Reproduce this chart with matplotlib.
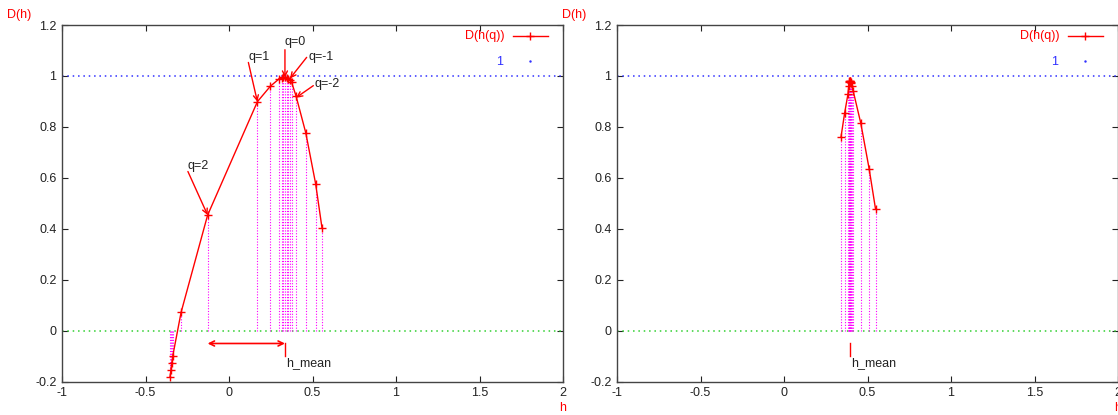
import matplotlib
matplotlib.use('Agg')
import matplotlib.pyplot as plt
import numpy as np

plt.rcParams['font.family'] = ['Liberation Sans', 'DejaVu Sans']

# left panel: D(h(q)) spectrum
h_left = [-0.353, -0.348, -0.343, -0.337, -0.287, -0.128, 0.170, 0.248, 0.299, 0.315,
          0.325, 0.335, 0.345, 0.355, 0.363, 0.375, 0.402, 0.460, 0.519, 0.557]
D_left = [-0.180, -0.155, -0.128, -0.100, 0.072, 0.454, 0.899, 0.960, 0.988, 0.992,
          0.994, 0.995, 0.993, 0.990, 0.985, 0.975, 0.920, 0.776, 0.576, 0.403]
hmean_left = 0.335
h_q2 = -0.128

# right panel
h_right = [0.341, 0.363, 0.383, 0.387, 0.390, 0.392, 0.394, 0.396, 0.398, 0.400,
           0.403, 0.407, 0.414, 0.460, 0.510, 0.548]
D_right = [0.759, 0.854, 0.929, 0.962, 0.975, 0.979, 0.981, 0.981, 0.980, 0.978,
           0.972, 0.962, 0.942, 0.814, 0.635, 0.478]
hmean_right = 0.394

# q labels: text, text pos (h, D), arrow tail (h, D), arrow tip (h, D)
q_labels = [('q=2', -0.251, 0.646, -0.246, 0.625, -0.128, 0.454),
            ('q=1', 0.114, 1.074, 0.116, 1.053, 0.170, 0.899),
            ('q=0', 0.335, 1.133, 0.335, 1.103, 0.335, 0.994),
            ('q=-1', 0.479, 1.074, 0.465, 1.073, 0.365, 0.990),
            ('q=-2', 0.509, 0.968, 0.505, 0.962, 0.402, 0.915)]

xticks = [-1, -0.5, 0, 0.5, 1, 1.5, 2]
xticklabels = ['-1', '-0.5', '0', '0.5', '1', '1.5', '2']
yticks = [-0.2, 0, 0.2, 0.4, 0.6, 0.8, 1, 1.2]
yticklabels = ['-0.2', '0', '0.2', '0.4', '0.6', '0.8', '1', '1.2']

red = '#ff0000'
fs = 9


def draw_panel(ax, h, D, hmean):
    ax.set_xlim(-1, 2)
    ax.set_ylim(-0.2, 1.2)

    # reference lines
    ax.axhline(1, color='#3030ff', lw=1.1, ls=(0, (1, 2.5)))
    ax.axhline(0, color='#30d030', lw=1.1, ls=(0, (1, 2.5)))

    # impulses
    for hi, di in zip(h, D):
        ax.plot([hi, hi], [0, di], color='#ff00ff', lw=0.8, ls=(0, (1, 1.5)))

    ax.plot(h, D, color=red, lw=1.0, marker='+', ms=6, mew=1.0)

    # h_mean marker
    ax.plot([hmean, hmean], [-0.05, -0.1], color=red, lw=1.0)
    ax.text(hmean + 0.01, -0.127, 'h_mean', fontsize=fs, color='#222222',
            ha='left', va='center')

    ax.set_xticks(xticks)
    ax.set_xticklabels(xticklabels)
    ax.set_yticks(yticks)
    ax.set_yticklabels(yticklabels)
    ax.tick_params(direction='in', length=4, width=0.8, labelsize=fs,
                   top=True, right=True, colors='#222222', pad=4)
    for s in ax.spines.values():
        s.set_color('#444444')
        s.set_linewidth(1.0)

    # titles
    ax.text(-55 / 501, 1.01, 'D(h)', transform=ax.transAxes, color=red,
            fontsize=fs, ha='left', va='bottom')
    ax.text(1.0, -0.075, 'h', transform=ax.transAxes, color=red,
            fontsize=fs, ha='center', va='center')

    # key
    ax.text(0.884, 0.969, 'D(h(q))', transform=ax.transAxes, color=red,
            fontsize=fs, ha='right', va='center')
    ax.plot([0.900, 0.970], [0.969, 0.969], transform=ax.transAxes,
            color=red, lw=1.0, clip_on=False)
    ax.plot([0.935], [0.969], transform=ax.transAxes, color=red,
            marker='+', ms=6, mew=1.0, clip_on=False)
    ax.text(0.880, 0.896, '1', transform=ax.transAxes, color='#3030ff',
            fontsize=fs, ha='right', va='center')
    ax.plot([0.935], [0.899], transform=ax.transAxes, color='#3030ff',
            marker='.', ms=1.5, clip_on=False)


fig = plt.figure(figsize=(11.18, 4.15), dpi=100)
ax1 = fig.add_axes([62 / 1118, 1 - 381.7 / 415, 501 / 1118, 356.7 / 415])
ax2 = fig.add_axes([617 / 1118, 1 - 381.7 / 415, 501 / 1118, 356.7 / 415])

draw_panel(ax1, h_left, D_left, hmean_left)
draw_panel(ax2, h_right, D_right, hmean_right)

# q annotations on the left panel
for txt, tx, ty, ax0, ay0, px, py in q_labels:
    ax1.annotate('', xy=(px, py), xytext=(ax0, ay0),
                 arrowprops=dict(arrowstyle='->', color=red, lw=1.0,
                                 mutation_scale=9, shrinkA=0, shrinkB=0))
    ax1.text(tx, ty, txt, fontsize=fs, color='#222222', ha='left', va='center')

# spread arrow between q=2 and h_mean
ax1.annotate('', xy=(hmean_left, -0.05), xytext=(h_q2, -0.05),
             arrowprops=dict(arrowstyle='<->', color=red, lw=1.2,
                             mutation_scale=9, shrinkA=0, shrinkB=0))

fig.savefig('out.png', dpi=100)
